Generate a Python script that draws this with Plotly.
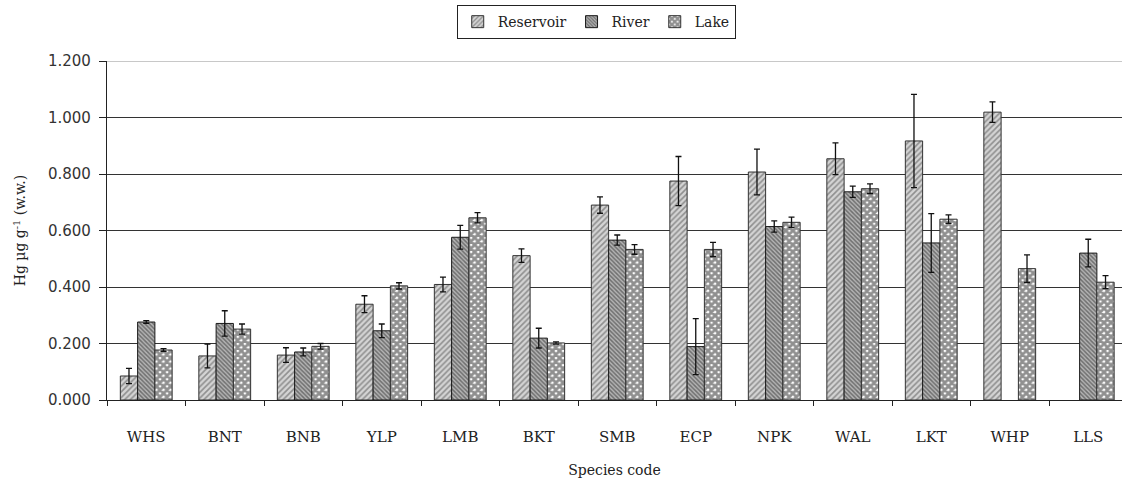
import plotly.graph_objects as go

species = ["WHS", "BNT", "BNB", "YLP", "LMB", "BKT", "SMB", "ECP", "NPK", "WAL", "LKT", "WHP", "LLS"]

reservoir = [0.085, 0.156, 0.159, 0.339, 0.409, 0.511, 0.690, 0.775, 0.807, 0.854, 0.917, 1.019, None]
reservoir_err = [0.027, 0.042, 0.026, 0.030, 0.026, 0.024, 0.029, 0.087, 0.081, 0.056, 0.165, 0.036, None]

river = [0.276, 0.271, 0.170, 0.245, 0.576, 0.219, 0.566, 0.189, 0.614, 0.737, 0.556, None, 0.520]
river_err = [0.005, 0.045, 0.014, 0.024, 0.042, 0.035, 0.018, 0.099, 0.020, 0.020, 0.104, None, 0.049]

lake = [0.177, 0.251, 0.190, 0.404, 0.645, 0.202, 0.533, 0.533, 0.629, 0.748, 0.640, 0.465, 0.417]
lake_err = [0.005, 0.018, 0.010, 0.011, 0.018, 0.004, 0.017, 0.025, 0.018, 0.017, 0.015, 0.049, 0.023]

y_ticks = [0.0, 0.2, 0.4, 0.6, 0.8, 1.0, 1.2]
y_tick_text = ["0.000", "0.200", "0.400", "0.600", "0.800", "1.000", "1.200"]

serif = "DejaVu Serif"
sans = "DejaVu Sans"

def err(vals):
    return dict(type="data", array=vals, visible=True, color="#111111", thickness=1.3, width=3)

fig = go.Figure()
fig.add_trace(go.Bar(
    name="Reservoir", x=species, y=reservoir, error_y=err(reservoir_err),
    marker=dict(color="#cccccc", line=dict(color="#333333", width=1),
                pattern=dict(shape="/", fgcolor="#4a4a4a", bgcolor="#d4d4d4", size=4, solidity=0.4)),
))
fig.add_trace(go.Bar(
    name="River", x=species, y=river, error_y=err(river_err),
    marker=dict(color="#999999", line=dict(color="#1a1a1a", width=1),
                pattern=dict(shape="\\", fgcolor="#2a2a2a", bgcolor="#b4b4b4", size=3, solidity=0.5)),
))
fig.add_trace(go.Bar(
    name="Lake", x=species, y=lake, error_y=err(lake_err),
    marker=dict(color="#ffffff", line=dict(color="#333333", width=1),
                pattern=dict(shape="x", fgcolor="#222222", bgcolor="#ffffff", size=5, solidity=0.8)),
))

fig.add_shape(type="line", xref="paper", x0=0, x1=1, yref="y", y0=1.2, y1=1.2,
              line=dict(color="#c8c8c8", width=2), layer="below")

fig.update_layout(
    width=1122, height=483,
    margin=dict(l=107, r=0, t=61, b=83),
    paper_bgcolor="white", plot_bgcolor="white",
    barmode="group", bargap=0.34, bargroupgap=0,
    showlegend=True,
    legend=dict(orientation="h", x=0.482, xanchor="center", y=1.165, yanchor="top",
                bordercolor="#222222", borderwidth=1, bgcolor="white",
                font=dict(family=serif, size=14, color="#222222"),
                itemwidth=30, tracegroupgap=0),
    xaxis=dict(type="category", range=[-0.5, 12.43], tickson="boundaries",
               ticks="outside", ticklen=5, tickcolor="#222222",
               showline=True, linecolor="#222222", linewidth=1.3,
               tickfont=dict(family=serif, size=15, color="#222222"),
               ticklabelstandoff=23,
               title=dict(text="Species code", font=dict(family=serif, size=14, color="#222222"), standoff=20),
               showgrid=False, zeroline=False),
    yaxis=dict(range=[0, 1.2], tickvals=y_ticks, ticktext=y_tick_text,
               ticks="outside", ticklen=7, tickcolor="#222222",
               showline=True, linecolor="#222222", linewidth=1.3,
               showgrid=True, gridcolor="#333333", gridwidth=1.3,
               zeroline=False, ticklabelstandoff=5,
               tickfont=dict(family=sans, size=15, color="#333333"),
               title=dict(text="Hg µg g<sup>-1</sup> (w.w.)", font=dict(family=serif, size=14, color="#222222"), standoff=18)),
)

fig.write_html("out.html")
